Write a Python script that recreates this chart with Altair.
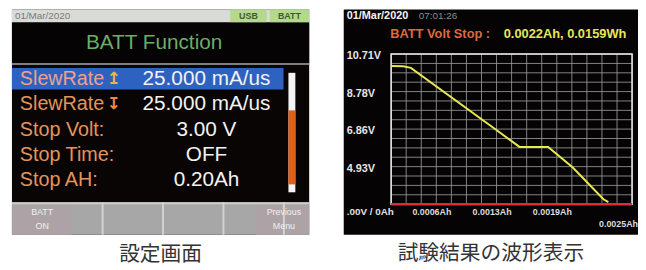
import altair as alt
import pandas as pd

# ---------------- left screen: settings ----------------
status_date = "01/Mar/2020"
status_tags = ["USB", "BATT"]
screen_title = "BATT Function"
row_labels = ["SlewRate", "SlewRate", "Stop Volt:", "Stop Time:", "Stop AH:"]
row_icons = ["↥", "↧", "", "", ""]
row_values = ["25.000 mA/us", "25.000 mA/us", "3.00 V", "OFF", "0.20Ah"]
button_top = ["BATT", "", "", "", "Previous"]
button_bottom = ["ON", "", "", "", "Menu"]
caption_left = "設定画面"

# ---------------- right screen: waveform ----------------
wave_date = "01/Mar/2020"
wave_time = "07:01:26"
stop_label = "BATT Volt Stop :"
stop_result = "0.0022Ah, 0.0159Wh"
capacity_ah = [0, 0.000123, 0.000205, 0.001096, 0.001332, 0.001629, 0.001885, 0.002203, 0.002254]
voltage_v = [10.10, 10.08, 10.00, 6.80, 5.94, 5.94, 4.88, 3.25, 3.10]
stop_voltage = 3.00
v_min, v_max = 3.00, 10.71
ah_max = 0.0025
y_tick_values = [10.71, 8.78, 6.86, 4.93]
y_tick_labels = ["10.71V", "8.78V", "6.86V", "4.93V"]
origin_label = ".00V / 0Ah"
x_tick_values = [0.000625, 0.00125, 0.001875, 0.0025]
x_tick_labels = ["0.0006Ah", "0.0013Ah", "0.0019Ah", "0.0025Ah"]
grid_divisions = 16
caption_right = "試験結果の波形表示"

DEV_FONT = "Liberation Sans, Arial, DejaVu Sans"
CJK_FONT = "Noto Sans CJK JP"

one = alt.Data(values=[{}])


def box(x, x2, y, y2, color, **kw):
    return alt.Chart(one).mark_rect(color=color, **kw).encode(
        x=alt.value(x), x2=alt.value(x2), y=alt.value(y), y2=alt.value(y2)
    )


def label(text, x, y, align="left", **kw):
    return alt.Chart(one).mark_text(text=text, font=DEV_FONT, baseline="middle", align=align, **kw).encode(
        x=alt.value(x), y=alt.value(y)
    )


# ================= LEFT PANEL =================
LW, LH = 301, 228
rows = pd.DataFrame({"row": list(range(5)), "label": row_labels, "icon": row_icons, "value": row_values})
row_y = alt.Y("row:O", scale=alt.Scale(type="point", domain=list(range(5)), range=[70, 173], padding=0), axis=None)

btns = pd.DataFrame({"btn": list(range(5)), "top": button_top, "bottom": button_bottom})
btn_scale = alt.Scale(type="band", domain=list(range(5)), range=[0, 306], paddingInner=0, paddingOuter=0)

left_layers = [
    box(0, LW, 0, LH, "#0a0505"),
    box(0, LW, 0, 13, "#d9dbd7"),
    box(221, 258, 0, 13, "#b5d98c"),
    box(261, LW, 0, 13, "#b5d98c"),
    label(status_date, 3, 7, fontSize=10, color="#7a7a7a"),
    label(status_tags[0], 239.5, 7, align="center", fontSize=9, fontWeight="bold", color="#3f5c2c"),
    label(status_tags[1], 281, 7, align="center", fontSize=9, fontWeight="bold", color="#3f5c2c"),
    box(0, LW, 13, 54, "#050303"),
    label(screen_title, 144, 34, align="center", fontSize=21, color="#6aae68"),
    box(0, LW, 54, 56, "#7e7e7e"),
    box(0, 275, 59, 81, "#2d62c0"),
    box(280, 287, 64, 185, "#f4f4f4"),
    box(280, 287, 102, 177, "#e0601a"),
    box(0, LW, 195, LH, "#a7a7a7"),
    box(0, 60, 197, LH, "#ada3a6"),
    box(247, LW, 197, LH, "#ada3a6"),
    box(0, LW, 195, 197, "#cdcdcd"),
    alt.Chart(btns).transform_filter("datum.btn >= 1").mark_rule(color="#d2d2d2", strokeWidth=2).encode(
        x=alt.X("btn:O", scale=btn_scale, axis=None), y=alt.value(195), y2=alt.value(LH)
    ),
    alt.Chart(rows).mark_text(font=DEV_FONT, fontSize=20, align="left", baseline="middle").encode(
        x=alt.value(8), y=row_y, text="label:N",
        color=alt.condition("datum.row == 0", alt.value("#f0a08c"), alt.value("#e3955a")),
    ),
    alt.Chart(rows).mark_text(font="DejaVu Sans", fontSize=17, align="left", baseline="middle", fontWeight="bold").encode(
        x=alt.value(96), y=row_y, text="icon:N",
        color=alt.condition("datum.row == 0", alt.value("#f2b43c"), alt.value("#ea8c40")),
    ),
    alt.Chart(rows).mark_text(font=DEV_FONT, fontSize=21, align="center", baseline="middle", color="#f2f2f2").encode(
        x=alt.value(197), y=row_y, text="value:N"
    ),
    alt.Chart(btns).mark_text(font=DEV_FONT, fontSize=9, align="center", baseline="middle", color="#f0f0f0").encode(
        x=alt.X("btn:O", scale=btn_scale, axis=None, bandPosition=0.5), y=alt.value(205), text="top:N"
    ),
    alt.Chart(btns).mark_text(font=DEV_FONT, fontSize=9, align="center", baseline="middle", color="#f0f0f0").encode(
        x=alt.X("btn:O", scale=btn_scale, axis=None, bandPosition=0.5), y=alt.value(219), text="bottom:N"
    ),
]

left = alt.layer(*left_layers).properties(
    width=LW, height=LH,
    title=alt.TitleParams(caption_left, orient="bottom", anchor="middle", fontSize=21, font=CJK_FONT,
                          fontWeight="normal", color="#333333", offset=9),
)

# ================= RIGHT PANEL =================
RW, RH = 298, 228
xs = alt.Scale(domain=[0, ah_max], range=[48, 292], nice=False, zero=False)
ys = alt.Scale(domain=[v_min, v_max], range=[197, 45], nice=False, zero=False)

xgrid = pd.DataFrame({"ah": [ah_max * k / grid_divisions for k in range(grid_divisions + 1)],
                      "v0": v_min, "v1": v_max})
ygrid = pd.DataFrame({"v": [v_min + (v_max - v_min) * k / grid_divisions for k in range(grid_divisions + 1)],
                      "a0": 0.0, "a1": ah_max})
frame = pd.DataFrame({"a0": [0.0], "a1": [ah_max], "v0": [v_min], "v1": [v_max]})
stop = pd.DataFrame({"a0": [0.0], "a1": [ah_max], "v": [stop_voltage]})
curve = pd.DataFrame({"ah": capacity_ah, "v": voltage_v})
yt = pd.DataFrame({"v": y_tick_values, "t": y_tick_labels})
xt = pd.DataFrame({"ah": x_tick_values, "t": x_tick_labels, "i": list(range(len(x_tick_values)))})

right_layers = [
    box(0, RW, 0, RH, "#060304"),
    alt.Chart(xgrid).mark_rule(color="#9a9a9a", strokeWidth=1, opacity=0.85).encode(
        x=alt.X("ah:Q", scale=xs, axis=None), y=alt.Y("v0:Q", scale=ys, axis=None), y2="v1:Q"
    ),
    alt.Chart(ygrid).mark_rule(color="#9a9a9a", strokeWidth=1, opacity=0.85).encode(
        y=alt.Y("v:Q", scale=ys, axis=None), x=alt.X("a0:Q", scale=xs, axis=None), x2="a1:Q"
    ),
    alt.Chart(frame).mark_rect(fillOpacity=0, stroke="#eeeeee", strokeWidth=1.5).encode(
        x=alt.X("a0:Q", scale=xs, axis=None), x2="a1:Q", y=alt.Y("v0:Q", scale=ys, axis=None), y2="v1:Q"
    ),
    alt.Chart(stop).mark_rule(color="#e62a2a", strokeWidth=2.5).encode(
        y=alt.Y("v:Q", scale=ys, axis=None), x=alt.X("a0:Q", scale=xs, axis=None), x2="a1:Q"
    ),
    alt.Chart(curve).mark_line(color="#e8e852", strokeWidth=2).encode(
        x=alt.X("ah:Q", scale=xs, axis=None), y=alt.Y("v:Q", scale=ys, axis=None)
    ),
    label(wave_date, 3, 6, fontSize=11, fontWeight="bold", color="#f4f4f4"),
    label(wave_time, 76, 6, fontSize=10, color="#8c8c8c"),
    label(stop_label, 47, 25, fontSize=13, fontWeight="bold", color="#dd6a40"),
    label(stop_result, 162, 25, fontSize=13, fontWeight="bold", color="#e6e65a"),
    alt.Chart(yt).mark_text(font=DEV_FONT, fontSize=11, fontWeight="bold", color="#e6e6e6",
                            align="left", baseline="middle", dy=2).encode(
        x=alt.value(3), y=alt.Y("v:Q", scale=ys, axis=None), text="t:N"
    ),
    label(origin_label, 3, 205, fontSize=10, fontWeight="bold", color="#e0e0e0"),
    alt.Chart(xt).transform_filter("datum.i < 3").mark_text(font=DEV_FONT, fontSize=9, fontWeight="bold",
                                                          color="#dcdcdc", align="right", baseline="middle").encode(
        x=alt.X("ah:Q", scale=xs, axis=None), y=alt.value(205), text="t:N"
    ),
    alt.Chart(xt).transform_filter("datum.i == 3").mark_text(font=DEV_FONT, fontSize=9, fontWeight="bold",
                                                           color="#dcdcdc", align="right", baseline="middle", dx=6).encode(
        x=alt.X("ah:Q", scale=xs, axis=None), y=alt.value(217), text="t:N"
    ),
]

right = alt.layer(*right_layers).properties(
    width=RW, height=RH,
    title=alt.TitleParams(caption_right, orient="bottom", anchor="middle", fontSize=21, font=CJK_FONT,
                          fontWeight="normal", color="#333333", offset=9),
)

chart = alt.hconcat(left, right, spacing=35).properties(
    padding={"left": 4, "top": 0, "right": 0, "bottom": 0},
    background="white",
).configure_view(stroke=None)

chart.save("out.html", embed_options={"renderer": "svg", "actions": False})
